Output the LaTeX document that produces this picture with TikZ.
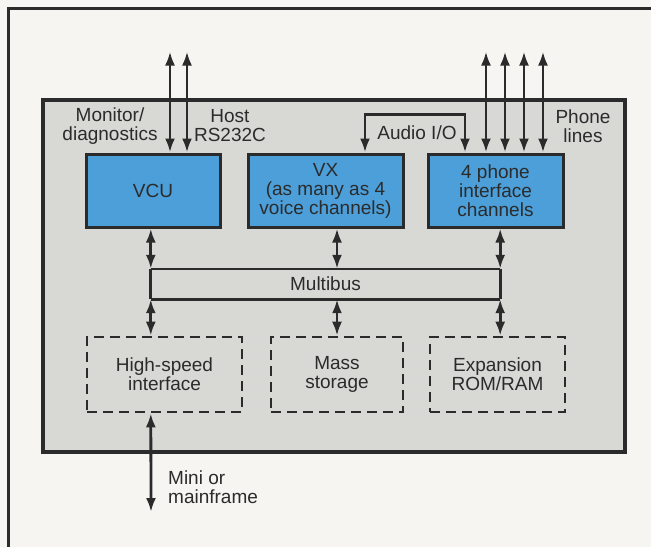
\documentclass[tikz,border=0pt]{standalone}
\usepackage{fontspec}
\setmainfont{Liberation Sans}
\usepackage{tikz}
\usetikzlibrary{arrows.meta,positioning}
\definecolor{PaperWhite}{HTML}{F6F5F1}
\definecolor{PanelGray}{HTML}{D8D8D5}
\definecolor{ChipBlue}{HTML}{4C9FD8}
\definecolor{InkDark}{HTML}{2B2B2B}

\tikzset{
  chip/.style={draw=InkDark, fill=ChipBlue, line width=3pt, align=center, inner sep=0pt, text=InkDark},
  slot/.style={draw=InkDark, dash pattern=on 10pt off 6pt, line width=2.6pt, align=center, inner sep=0pt, text=InkDark},
  lbl/.style={align=center, inner sep=0pt, text=InkDark},
  link/.style={draw=InkDark, line width=2.8pt, {Latex[length=14pt,width=10pt]}-{Latex[length=14pt,width=10pt]}},
  busline/.style={draw=InkDark, line width=2.6pt}
}

\begin{document}
\begin{tikzpicture}[x=1pt, y=-1pt, font=\fontsize{19}{19}\selectfont]
  \useasboundingbox (0,0) rectangle (651,547);
  \fill[PaperWhite] (0,0) rectangle (651,547);

  % --- page frame ---
  \draw[InkDark, line width=3pt] (8,547) -- (8,8) -- (651,8);

  % --- gray panel ---
  \filldraw[fill=PanelGray, draw=InkDark, line width=3.5pt] (43,100) rectangle (625,452);

  % --- top row (blue) ---
  \node[chip, minimum width=134pt, minimum height=73pt] (vcu) at (153,190.5) {VCU};
  \node[chip, minimum width=155pt, minimum height=73pt] (vx) at (325.5,190.5)
    {VX\\(as many as 4\\voice channels)};
  \node[chip, minimum width=135pt, minimum height=73pt] (phone) at (495.5,190.5)
    {4 phone\\interface\\channels};

  % --- bus ---
  \node[lbl, minimum width=349pt, minimum height=30pt] (bus) at (325.5,284) {Multibus};
  \draw[busline] (bus.north west) -- (bus.north east);
  \draw[busline] (bus.south west) -- (bus.south east);

  % --- bottom row (dashed) ---
  \node[slot, minimum width=155pt, minimum height=75pt] (hs) at (164.5,374.5)
    {High-speed\\interface};
  \node[slot, minimum width=132pt, minimum height=75pt] (mass) at (337,374.5)
    {Mass\\storage};
  \node[slot, minimum width=135pt, minimum height=75pt] (exp) at (497.5,374.5)
    {Expansion\\ROM/RAM};

  % --- labels ---
  \node[lbl] (mon) at (110,126) {Monitor/\\diagnostics};
  \node[lbl] (host) at (230,126) {Host\\RS232C};
  \node[lbl] (lines) at (583,126) {Phone\\lines};
  \node[lbl] (audio) at (417,133) {Audio I/O};
  \node[lbl, align=left, anchor=west] (minilbl) at (168,487) {Mini or\\mainframe};
  \coordinate (mini) at (151,512);

  % --- external lines ---
  \draw[link] ([xshift=17pt]vcu.north) -- ++(0,-101);
  \draw[link] ([xshift=34pt]vcu.north) -- ++(0,-101);
  \foreach \dx in {-9.5,9.5,28.5,47.5}
    \draw[link] ([xshift=\dx pt]phone.north) -- ++(0,-101);
  \draw[link] ([xshift=39.5pt]vx.north) -- ++(0,-38) -- ++(100,0)
    -- ([xshift=-30.5pt]phone.north);

  % --- bus taps ---
  \draw[link] (vcu.south -| bus.west) -- (bus.north west);
  \draw[InkDark, line width=2.8pt] (bus.north west) -- (bus.south west);
  \draw[link] (bus.south west) -- (bus.west |- hs.north);
  \draw[link] (mass.north |- vx.south) -- (mass.north |- bus.north);
  \draw[link] (mass.north |- bus.south) -- (mass.north);
  \draw[link] (phone.south -| bus.east) -- (bus.north east);
  \draw[InkDark, line width=2.8pt] (bus.north east) -- (bus.south east);
  \draw[link] (bus.south east) -- (bus.east |- exp.north);
  \draw[link] (bus.west |- hs.south) -- (mini);
\end{tikzpicture}
\end{document}
